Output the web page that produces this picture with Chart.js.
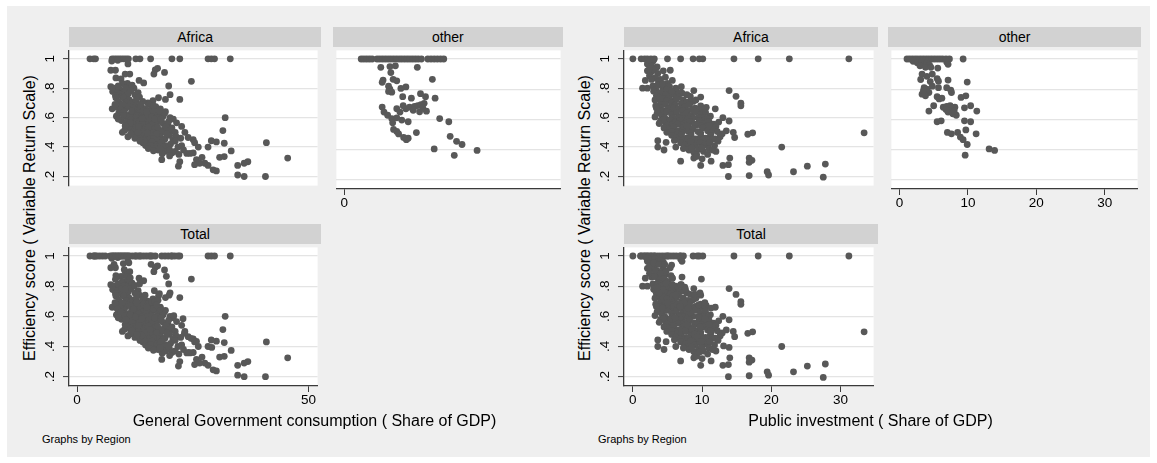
<!DOCTYPE html>
<html>
<head>
<meta charset="utf-8">
<script src="https://cdn.jsdelivr.net/npm/chart.js@4.4.0/dist/chart.umd.min.js"></script>
<style>
body { margin: 0; background: #fff; width: 1157px; height: 463px; overflow: hidden; font-family: "Liberation Sans", Arial, sans-serif; }
#bg { position: absolute; left: 7px; top: 6px; width: 1143px; height: 451px; background: #efefef; }
.hdr { position: absolute; background: #d2d2d2; height: 20px; line-height: 20px; text-align: center; font-size: 14px; color: #000; }
.cv { position: absolute; }
.ytitle { position: absolute; font-size: 16px; white-space: nowrap; transform: translate(-50%, -50%) rotate(-90deg); }
.xtitle { position: absolute; font-size: 16px; white-space: nowrap; transform: translate(-50%, -50%); }
.note { position: absolute; font-size: 11px; transform: translateY(-50%); white-space: nowrap; }
</style>
</head>
<body>
<div id="bg"></div>
<div id="stage"></div>
<script>
// --- data: [x, efficiency score] ---
const consAfrica = [
  [2.8,1],[3.6,1],[4.0,1],[7.6,1],[8.1,1],[8.6,1],[9.1,1],[9.6,1],[10.1,1],[10.6,1],[11.1,1],[12.7,1],[13.6,1],[15.9,1],[20.5,1],[22.2,1],[28.3,1],[29.0,1],[29.7,1],[33.1,1],
  [7.5,0.985],[11.0,0.965],[8.8,0.99],
  [7.3,0.922],[8.3,0.922],[16.9,0.925],[17.4,0.935],[16.6,0.896],[18.9,0.907],[10.4,0.896],[11.4,0.896],
  [8.4,0.87],[9.5,0.864],[13.4,0.853],[24.7,0.847],[14.4,0.836],[9.8,0.832],[10.9,0.832],
  [7.3,0.81],[11.2,0.81],[12.3,0.80],[19.8,0.815],[11.9,0.82],[8.0,0.80],[9.3,0.79],[10.5,0.80],[8.9,0.815],
  [7.7,0.778],[8.7,0.77],[10.1,0.77],[11.6,0.78],[13.2,0.77],[9.2,0.76],[12.5,0.755],[20.1,0.756],[10.6,0.75],[8.3,0.75],[11.0,0.76],[9.7,0.745],
  [8.4,0.735],[10.1,0.735],[13.5,0.74],[17.6,0.735],[19.1,0.724],[22.2,0.724],[9.0,0.71],[11.3,0.72],[12.0,0.705],[16.4,0.715],[15.3,0.70],[14.2,0.71],[12.8,0.72],[10.6,0.705],
  [7.6,0.66],[8.6,0.67],[9.6,0.68],[11.6,0.69],[12.6,0.68],[14.0,0.67],[15.5,0.69],[17.0,0.675],[18.0,0.66],[10.4,0.66],[13.2,0.65],[16.0,0.655],[11.0,0.675],[14.8,0.66],[9.8,0.69],[8.2,0.69],[12.1,0.665],[13.7,0.69],[16.5,0.68],[9.4,0.655],
  [9.0,0.63],[10.2,0.64],[11.4,0.62],[12.4,0.635],[13.6,0.63],[14.6,0.61],[15.6,0.625],[16.6,0.64],[17.6,0.62],[18.6,0.61],[19.1,0.64],[10.8,0.605],[12.0,0.60],[13.0,0.615],[15.2,0.60],[16.2,0.605],[17.2,0.60],[20.1,0.60],[20.8,0.59],[32.0,0.60],[8.5,0.61],[14.4,0.645],[11.8,0.645],[10.0,0.615],[12.8,0.60],[18.9,0.63],[15.0,0.64],[17.8,0.645],
  [9.6,0.58],[10.6,0.57],[11.6,0.585],[12.6,0.57],[13.6,0.58],[14.6,0.57],[15.6,0.58],[16.6,0.565],[17.6,0.575],[18.6,0.56],[19.6,0.555],[21.5,0.565],[22.6,0.54],[11.1,0.55],[13.1,0.555],[15.1,0.55],[17.1,0.55],[12.1,0.555],[14.1,0.555],[16.1,0.55],[14.0,0.595],[16.8,0.59],[18.2,0.59],[19.8,0.575],[11.5,0.565],[8.9,0.59],
  [9.8,0.50],[10.8,0.53],[11.8,0.52],[12.8,0.535],[13.8,0.52],[14.8,0.53],[15.8,0.515],[16.8,0.525],[17.8,0.51],[18.8,0.52],[19.8,0.505],[23.3,0.50],[12.3,0.505],[14.3,0.505],[16.3,0.50],[18.3,0.50],[31.5,0.512],[20.5,0.53],[13.3,0.54],[15.4,0.535],[17.4,0.535],[19.2,0.54],[10.3,0.515],[10.4,0.545],[20.2,0.515],[21.2,0.50],
  [11.0,0.47],[12.0,0.485],[13.0,0.47],[14.0,0.48],[15.0,0.465],[16.0,0.475],[17.0,0.46],[18.0,0.47],[19.0,0.455],[20.0,0.48],[21.4,0.47],[25.1,0.45],[13.5,0.455],[15.5,0.45],[17.5,0.45],[12.5,0.46],[22.4,0.46],[24.0,0.465],[13.2,0.50],[15.2,0.495],[17.2,0.49],[19.4,0.49],[11.6,0.49],[16.5,0.455],[18.5,0.445],[20.7,0.45],
  [14.2,0.43],[15.2,0.42],[16.2,0.435],[17.2,0.415],[18.2,0.43],[19.2,0.41],[20.2,0.42],[21.2,0.44],[22.6,0.41],[25.4,0.43],[26.2,0.40],[28.3,0.40],[29.0,0.443],[30.1,0.435],[31.8,0.426],[40.9,0.43],[16.7,0.405],[18.7,0.40],[14.8,0.41],[14.5,0.44],[13.6,0.44],[15.9,0.41],[21.8,0.40],
  [17.5,0.38],[19.0,0.37],[20.5,0.36],[21.2,0.37],[23.0,0.38],[23.7,0.357],[24.4,0.357],[25.1,0.36],[33.3,0.374],[15.4,0.39],[18.4,0.355],[17.9,0.39],[19.8,0.395],[16.5,0.375],[20.0,0.38],[22.0,0.35],
  [18.3,0.314],[22.2,0.30],[25.8,0.315],[30.8,0.33],[31.8,0.335],[36.9,0.30],[45.5,0.325],[20.0,0.34],[27.0,0.33],
  [21.9,0.27],[25.4,0.28],[27.6,0.29],[28.3,0.275],[34.7,0.275],[36.1,0.29],[26.5,0.29],
  [30.1,0.238],[34.7,0.21],[36.1,0.20],[40.7,0.20],[29.4,0.245]
];
const consOther = [
  [3.7,1],[4.3,1],[4.9,1],[5.5,1],[6.1,1],[7.2,1],[7.8,1],[8.4,1],[9.0,1],[9.6,1],[10.2,1],[10.8,1],[11.4,1],[12.0,1],[12.6,1],[13.2,1],[13.8,1],[14.4,1],[15.0,1],[15.6,1],[16.2,1],[16.9,1],[18.3,1],[19.0,1],[19.7,1],[20.4,1],[21.1,1],[21.8,1],
  [8.0,0.945],[10.0,0.95],[11.2,0.955],[16.0,0.945],[10.2,0.91],[8.5,0.86],[8.3,0.845],[10.7,0.865],[11.5,0.855],[19.3,0.865],
  [9.7,0.82],[10.0,0.80],[9.7,0.785],[10.4,0.78],[12.4,0.805],[13.5,0.815],[12.8,0.75],[14.7,0.74],[16.7,0.77],[17.8,0.75],[19.9,0.74],
  [8.3,0.681],[8.7,0.648],[9.5,0.627],[10.4,0.605],[11.5,0.67],[12.2,0.648],[13.5,0.67],[14.3,0.681],[15.4,0.685],[16.1,0.691],[16.8,0.698],[17.5,0.706],[18.0,0.654],[12.9,0.69],[15.1,0.66],[16.5,0.65],[17.2,0.675],
  [11.5,0.61],[12.6,0.595],[14.0,0.584],[10.6,0.577],[20.9,0.605],[22.9,0.584],
  [10.8,0.533],[11.5,0.52],[11.9,0.503],[13.6,0.465],[14.0,0.475],[13.0,0.48],[15.8,0.512],
  [23.2,0.487],[24.6,0.454],[25.8,0.433],[19.7,0.404],[24.1,0.361],[29.1,0.394]
];
const invAfrica = [
  [0.0,1],[1.2,1],[1.7,1],[2.1,1],[2.6,1],[3.1,1],[5.0,1],[6.9,1],[8.7,1],[9.6,1],[10.1,1],[14.6,1],[18.1,1],[22.6,1],[31.2,1],
  [2.9,0.983],[2.1,0.965],[2.5,0.99],[3.0,0.995],[2.7,0.95],[3.5,0.945],
  [2.1,0.918],[2.6,0.908],[3.1,0.923],[4.4,0.918],[5.4,0.922],[2.4,0.935],[3.6,0.90],
  [2.4,0.885],[1.8,0.853],[4.7,0.875],[5.7,0.853],[3.2,0.87],[4.0,0.86],[2.7,0.86],[3.7,0.845],
  [5.0,0.832],[3.6,0.82],[4.3,0.81],[1.4,0.80],[2.1,0.80],[2.9,0.815],[6.2,0.80],[7.0,0.81],[4.3,0.83],[5.3,0.81],[3.3,0.79],
  [3.0,0.78],[3.6,0.76],[4.2,0.775],[4.9,0.79],[5.5,0.765],[6.3,0.78],[7.1,0.767],[7.8,0.756],[8.8,0.784],[13.9,0.784],[5.2,0.75],[3.4,0.75],[4.7,0.755],[6.0,0.755],[6.7,0.765],[5.6,0.78],
  [3.2,0.72],[3.9,0.735],[4.5,0.71],[5.2,0.73],[5.9,0.715],[6.6,0.74],[7.3,0.72],[8.3,0.745],[9.8,0.74],[14.9,0.745],[4.0,0.70],[6.0,0.70],[8.0,0.705],[9.1,0.72],[4.3,0.73],[4.9,0.715],[5.6,0.70],[7.0,0.695],[7.7,0.70],[8.7,0.71],[6.3,0.725],
  [3.3,0.68],[4.0,0.665],[4.7,0.69],[5.4,0.67],[6.1,0.685],[6.8,0.66],[7.5,0.675],[8.2,0.69],[9.0,0.665],[9.8,0.68],[10.6,0.67],[11.9,0.66],[15.6,0.698],[15.6,0.68],[3.8,0.65],[5.8,0.65],[7.9,0.65],[10.2,0.655],[3.4,0.665],[4.4,0.645],[5.1,0.66],[5.9,0.665],[6.5,0.655],[7.2,0.645],[8.6,0.655],[9.5,0.655],
  [3.5,0.63],[4.2,0.615],[4.9,0.64],[5.6,0.62],[6.3,0.635],[7.0,0.61],[7.7,0.63],[8.4,0.615],[9.1,0.64],[9.8,0.62],[10.5,0.635],[11.2,0.61],[3.2,0.605],[13.0,0.60],[4.6,0.60],[6.6,0.60],[8.7,0.60],[10.2,0.60],[5.8,0.60],[7.3,0.595],[8.0,0.595],[9.5,0.60],[10.8,0.595],
  [4.0,0.58],[4.7,0.565],[5.4,0.585],[6.1,0.57],[6.8,0.58],[7.5,0.56],[8.2,0.575],[8.9,0.555],[9.6,0.58],[10.3,0.56],[11.0,0.575],[11.7,0.555],[13.9,0.577],[5.0,0.55],[7.0,0.55],[9.2,0.55],[12.4,0.57],[4.4,0.585],[3.8,0.56],[5.7,0.55],[6.4,0.555],[8.0,0.545],[9.9,0.545],[10.6,0.54],[12.0,0.54],
  [4.5,0.53],[5.2,0.515],[5.9,0.535],[6.6,0.51],[7.3,0.53],[8.0,0.505],[8.7,0.525],[9.4,0.505],[10.1,0.53],[10.8,0.51],[11.5,0.525],[12.2,0.505],[13.5,0.51],[14.5,0.50],[6.2,0.50],[7.8,0.545],[11.0,0.545],[4.9,0.50],[5.6,0.505],[7.1,0.50],[8.4,0.495],[9.8,0.495],[11.3,0.495],[12.9,0.49],
  [5.6,0.48],[6.3,0.465],[7.0,0.485],[7.7,0.46],[8.4,0.48],[9.1,0.455],[9.8,0.475],[10.5,0.46],[11.2,0.48],[11.9,0.455],[12.6,0.47],[14.7,0.465],[16.6,0.487],[17.3,0.497],[6.8,0.45],[8.8,0.45],[10.8,0.45],[6.0,0.445],[7.3,0.445],[8.0,0.455],[9.4,0.445],[10.1,0.45],[11.5,0.455],[12.3,0.44],
  [3.6,0.443],[4.8,0.432],[6.9,0.43],[7.6,0.415],[8.3,0.435],[9.0,0.41],[9.7,0.43],[10.4,0.415],[11.1,0.43],[11.8,0.41],[3.6,0.40],[6.2,0.40],[21.5,0.40],[8.0,0.40],[10.0,0.40],
  [4.5,0.38],[8.1,0.38],[8.8,0.365],[9.5,0.385],[10.2,0.37],[11.0,0.39],[12.0,0.37],[9.2,0.35],[10.8,0.35],[7.3,0.39],[8.5,0.395],[9.9,0.395],[11.5,0.38],
  [6.9,0.304],[8.8,0.325],[9.2,0.336],[11.3,0.304],[14.0,0.325],[16.8,0.325],[17.2,0.31],[10.0,0.32],
  [9.8,0.275],[13.0,0.275],[13.8,0.28],[16.8,0.296],[25.2,0.27],[27.8,0.284],
  [13.8,0.20],[16.8,0.206],[19.4,0.232],[19.6,0.21],[23.2,0.232],[27.5,0.195],
  [33.4,0.497]
];
const invOther = [
  [1.1,1],[1.5,1],[1.9,1],[2.3,1],[2.7,1],[3.1,1],[3.5,1],[3.9,1],[4.3,1],[4.7,1],[5.1,1],[5.5,1],[5.9,1],[6.3,1],[6.8,1],[7.3,1],[9.3,1],
  [2.0,0.985],[2.6,0.975],[3.2,0.98],[3.6,0.965],[4.0,0.97],[4.4,0.96],[3.0,0.955],[3.8,0.945],[4.6,0.945],[5.6,0.94],[6.9,0.98],[7.1,0.965],
  [3.3,0.90],[4.0,0.885],[4.8,0.90],[3.1,0.864],[5.5,0.87],[5.7,0.853],[7.1,0.86],[9.9,0.847],[4.5,0.85],
  [3.6,0.81],[4.0,0.80],[4.3,0.778],[3.3,0.767],[3.8,0.756],[3.5,0.79],[4.8,0.82],[5.7,0.81],[6.9,0.81],[7.5,0.793],[7.6,0.778],
  [5.5,0.75],[5.8,0.735],[6.2,0.74],[9.0,0.745],[9.7,0.756],
  [5.0,0.69],[4.3,0.655],[6.4,0.68],[6.9,0.685],[7.6,0.67],[8.1,0.68],[7.1,0.648],[7.8,0.637],[8.3,0.627],[7.3,0.66],[8.0,0.655],[7.4,0.69],[6.8,0.665],
  [9.5,0.676],[10.4,0.69],[11.3,0.655],
  [5.5,0.584],[6.1,0.59],[9.5,0.59],[10.4,0.584],
  [9.7,0.53],[11.2,0.504],[7.0,0.513],[7.6,0.504],[8.5,0.513],[8.9,0.482],[9.3,0.465],[9.9,0.433],
  [9.6,0.362],[13.1,0.404],[13.9,0.394]
];
const yTicks = [0.2, 0.4, 0.6, 0.8, 1];
const consTicks = [0, 50];
const invTicks = [0, 10, 20, 30];

const FONT = '"Liberation Sans", Arial, sans-serif';
const AXIS = '#3a3a3a';

// --- panel layout ---
const panels = [
  { title: 'Africa', x: 69.2, y: 46.7, w: 251.9, h: 142.3, min: -1.73, max: 51.96, pts: consAfrica, yAxis: true, xTicks: null },
  { title: 'other', x: 332.6, y: 46.7, w: 230.5, h: 142.3, min: -1.73, max: 47.4, pts: consOther, yAxis: false, xTicks: [0] },
  { title: 'Total', x: 69.2, y: 243.5, w: 251.9, h: 141.5, min: -1.73, max: 51.96, pts: consAfrica.concat(consOther), yAxis: true, xTicks: consTicks },
  { title: 'Africa', x: 624.3, y: 46.7, w: 253.4, h: 142.3, min: -1.28, max: 34.77, pts: invAfrica, yAxis: true, xTicks: null },
  { title: 'other', x: 888.2, y: 46.7, w: 252.8, h: 142.3, min: -1.18, max: 34.8, pts: invOther, yAxis: false, xTicks: invTicks },
  { title: 'Total', x: 624.3, y: 243.5, w: 253.4, h: 141.5, min: -1.28, max: 34.77, pts: invAfrica.concat(invOther), yAxis: true, xTicks: invTicks }
];

const stage = document.getElementById('stage');

function addDiv(cls, text, css) {
  const d = document.createElement('div');
  d.className = cls;
  d.textContent = text;
  Object.assign(d.style, css);
  stage.appendChild(d);
  return d;
}

function fmtY(v) {
  return v === 1 ? '1' : String(v).replace(/^0/, '');
}

function makePanel(p) {
  const padL = p.yAxis ? 30 : 0;
  const padB = p.xTicks ? 30 : 0;

  addDiv('hdr', p.title, { left: p.x + 'px', top: (p.y - 20) + 'px', width: p.w + 'px' });

  const cv = document.createElement('canvas');
  cv.className = 'cv';
  cv.width = Math.round(p.w + padL);
  cv.height = Math.round(p.h + padB);
  cv.style.left = (p.x - padL) + 'px';
  cv.style.top = p.y + 'px';
  cv.style.width = cv.width + 'px';
  cv.style.height = cv.height + 'px';
  stage.appendChild(cv);

  // white plot region + hand placed tick labels (Stata style, rotated on y)
  const labels = {
    id: 'labels',
    beforeDraw(chart) {
      const a = chart.chartArea;
      const c = chart.ctx;
      c.save();
      c.fillStyle = '#fff';
      c.fillRect(a.left, a.top, a.right - a.left, a.bottom - a.top);
      c.restore();
    },
    afterDraw(chart) {
      const a = chart.chartArea;
      const c = chart.ctx;
      c.save();
      c.fillStyle = '#000';
      c.font = '13.5px ' + FONT;
      c.textAlign = 'center';
      c.textBaseline = 'middle';
      if (p.yAxis) {
        yTicks.forEach(v => {
          const py = chart.scales.y.getPixelForValue(v);
          c.save();
          c.translate(a.left - 18.5, py);
          c.rotate(-Math.PI / 2);
          c.fillText(fmtY(v), 0, 0);
          c.restore();
        });
      }
      if (p.xTicks) {
        p.xTicks.forEach(v => {
          const px = chart.scales.x.getPixelForValue(v);
          c.fillText(String(v), px, a.bottom + 14);
        });
      }
      c.restore();
    }
  };

  new Chart(cv, {
    type: 'scatter',
    data: {
      datasets: [{
        data: p.pts.map(d => ({ x: d[0], y: d[1] })),
        backgroundColor: '#585858',
        borderWidth: 0,
        pointRadius: 3.4,
        pointHoverRadius: 3.4
      }]
    },
    options: {
      responsive: false,
      animation: false,
      events: [],
      layout: { padding: 0 },
      plugins: { legend: { display: false }, tooltip: { enabled: false } },
      scales: {
        x: {
          type: 'linear',
          min: p.min,
          max: p.max,
          display: !!p.xTicks,
          afterBuildTicks: s => { s.ticks = (p.xTicks || []).map(v => ({ value: v })); },
          afterFit: s => { s.height = padB; },
          grid: { drawOnChartArea: false, drawTicks: true, tickLength: 6, color: AXIS, lineWidth: 1 },
          border: { display: true, color: AXIS, width: 1.3 },
          ticks: { display: false }
        },
        y: {
          type: 'linear',
          min: 0.138,
          max: 1.057,
          afterBuildTicks: s => { s.ticks = yTicks.map(v => ({ value: v })); },
          afterFit: s => { s.width = padL; },
          grid: { color: '#e4e4e4', lineWidth: 1.2, drawTicks: p.yAxis, tickLength: 6, tickColor: AXIS, tickWidth: 1 },
          border: { display: p.yAxis, color: AXIS, width: 1.3 },
          ticks: { display: false }
        }
      }
    },
    plugins: [labels]
  });
}

panels.forEach(makePanel);

// --- titles ---
const yTitle = 'Efficiency score ( Variable Return Scale)';
addDiv('ytitle', yTitle, { left: '30px', top: '218px' });
addDiv('ytitle', yTitle, { left: '585px', top: '218px' });
addDiv('xtitle', 'General Government consumption ( Share of GDP)', { left: '314.5px', top: '421px' });
addDiv('xtitle', 'Public investment ( Share of GDP)', { left: '870.5px', top: '421px' });
addDiv('note', 'Graphs by Region', { left: '42px', top: '439px' });
addDiv('note', 'Graphs by Region', { left: '598px', top: '439px' });
</script>
</body>
</html>
